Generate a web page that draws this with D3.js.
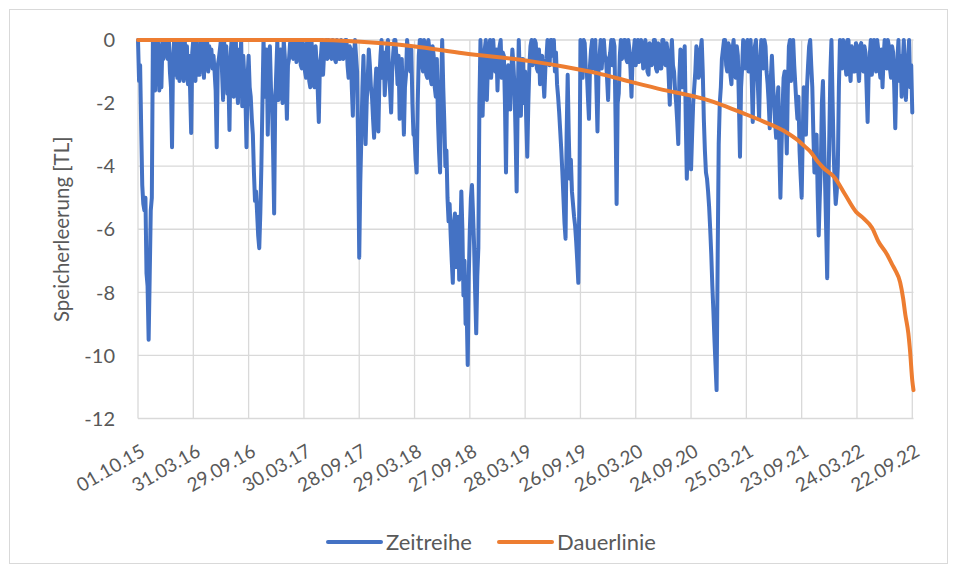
<!DOCTYPE html>
<html>
<head>
<meta charset="utf-8">
<script src="https://cdn.jsdelivr.net/npm/d3@7"></script>
<style>
  body { margin: 0; background: #fff; }
  text { font-family: Lato, "Open Sans", sans-serif; fill: #595959; }
</style>
</head>
<body>
<svg id="chart" width="957" height="573"></svg>
<script>
// time axis: labels every 182 days from the start date
const startDatum = new Date(Date.UTC(2015, 9, 1));
const tickAbstandTage = 182;
const tickAnzahl = 15;
const endeTag = 2552;
const schrittStunden = 84; // one value every 3.5 days

const yTicks = [0, -2, -4, -6, -8, -10, -12];

// Zeitreihe, one row per half-year (52 values each)
const zeitreihe = [
  0, -1.3, -0.8, -2.8, -4.6, -5.2, -5.4, -5.0, -7.4, -7.8, -9.5, -7.5, -5.4, -5.0, 0, -1.2, -1.6, 0, -1.4, -0.1, -1.6, -0.2, -1.5, 0, -0.6, 0, -0.5, 0, -0.6, 0, -1.0, -1.5, -3.4, -0.5, 0, -1.1, 0, -1.2, -0.1, -1.3, 0, -1.2, -0.1, -1.3, 0, -1.2, -0.2, -1.4, -0.5, -1.6, -2.95, -0.4,
  0, -1.0, -1.3, 0, -1.1, -0.2, -1.1, 0, -0.6, 0, -1.2, -0.1, -0.9, 0, -1.0, -0.2, -0.8, -0.3, -0.9, -0.5, -1.0, -1.6, -3.4, -0.8, -0.6, -0.3, 0, -1.0, -1.9, 0, -1.3, -0.2, -1.7, -1.2, -2.85, -0.5, 0, -1.6, -1.8, -0.2, 0, -1.5, -2.0, -0.3, -1.0, 0, -2.1, -0.5, -1.2, -1.8, -3.4, -1.2,
  -0.5, -1.5, -1.8, -2.5, -3.0, -4.2, -5.1, -4.8, -5.5, -6.2, -6.6, -5.5, -4.0, -2.0, 0, -1.0, -1.8, -0.3, -3.0, -1.2, -0.2, -1.5, -2.0, -3.5, -5.5, -2.0, -1.0, 0, -1.9, -0.5, -0.3, -1.6, -2.0, 0, -0.5, -1.2, -2.5, -0.8, -0.6, -0.1, 0, -0.5, -0.6, 0, 0, -0.7, -0.4, 0, 0, -0.8, -0.9, -0.1,
  -0.2, -1.0, -1.2, 0, -0.1, -1.3, -1.5, 0, -0.4, -1.4, -1.5, -0.2, -0.8, -1.6, -2.6, -0.8, -0.5, 0, -1.1, -0.4, -0.3, 0, -0.6, 0, -0.2, -0.5, -0.6, 0, -0.3, -0.6, -0.7, 0, -0.4, -0.6, -0.6, 0, -0.2, -0.6, -0.5, 0, 0, -0.8, -1.2, -0.2, -0.3, -1.5, -2.4, -0.6, 0, -0.5, -1.0, -3.5,
  -6.9, -4.5, -3.1, -1.5, -0.5, -2.0, -3.3, -2.0, -1.2, -0.3, -0.8, -1.5, -1.8, -2.5, -3.1, -1.5, -0.9, -2.0, -2.9, -1.2, -0.5, 0, -1.2, -0.4, -1.75, -1.0, -0.3, 0, -1.0, -1.6, -2.3, -1.0, -0.4, 0, 0, -0.6, -1.4, -0.5, -2.5, -1.5, -0.6, -1.8, -3.0, -1.5, -1.1, 0, -0.4, -0.8, -1.0, -0.3, -2.0, -3.0,
  -3.0, -3.8, -4.2, -2.0, -0.5, 0, 0, -0.8, -1.0, 0, -0.2, -1.1, -1.2, 0, -0.3, -1.2, -1.4, -0.2, -0.5, -1.5, -1.8, -0.6, -2.5, -3.5, -4.2, -1.5, 0, -1.5, -2.6, -4.0, -3.5, -5.0, -5.75, -5.2, -6.2, -7.0, -7.7, -5.8, -5.5, -7.2, -6.5, -5.6, -7.6, -6.5, -4.8, -6.0, -8.1, -7.0, -9.0, -8.5, -10.3, -7.5,
  -6.0, -5.0, -4.6, -5.5, -6.5, -8.0, -9.3, -7.5, -6.6, -2.0, 0, -1.0, -2.4, -1.0, -0.3, 0, -1.9, -0.8, -0.4, 0, -1.2, -0.5, 0, -0.6, -1.0, -0.3, -1.6, -0.5, -0.2, 0, -1.2, -0.4, -0.5, -2.0, -4.2, -1.5, -0.8, -1.5, -2.2, -1.0, -0.3, -0.8, -1.5, -3.0, -4.8, -2.0, 0, -1.2, -2.4, -0.6, -0.6, -2.0,
  -1.0, -2.5, -3.7, -2.0, -0.8, -0.2, 0, -0.8, -0.6, 0, -0.1, -0.9, -1.0, -0.3, -1.4, -0.6, -0.5, -1.2, -1.8, -0.9, -0.6, 0, -0.2, -0.8, 0, 0, -0.5, 0, -1.0, -0.4, -1.4, -1.8, -2.3, -2.9, -3.5, -4.2, -5.0, -5.8, -6.3, -3.0, -1.1, -3.0, -4.4, -3.8, -4.8, -5.2, -5.6, -5.9, -6.4, -7.0, -7.7, -5.0,
  0, -0.6, -1.2, 0, -0.1, -0.9, -1.0, -1.8, -2.5, -0.8, -0.3, 0, -0.9, -0.2, 0, -1.5, -2.9, -1.0, -0.5, 0, -0.9, -0.3, 0, -0.5, -0.6, -1.2, -1.9, -0.6, -0.4, 0, -0.8, 0, -0.2, -2.5, -5.2, -2.0, -1.7, -0.5, 0, -0.6, -0.5, 0, 0, -0.6, -0.7, 0, -0.3, -0.9, -1.8, -0.6, -0.4, 0,
  -0.8, -0.2, 0, -0.7, -0.6, 0, -0.2, -0.9, -0.8, 0, -0.3, -1.0, -1.1, -0.1, -0.2, -0.8, -0.7, 0, 0, -0.9, -1.0, -0.1, -0.3, -0.9, -0.9, 0, 0, -0.7, -0.8, -0.1, -0.4, -1.2, -2.05, -0.5, 0, -0.8, -1.0, -1.6, -2.0, -2.6, -3.3, -1.2, -0.3, -0.9, -1.5, -0.6, -0.2, -2.5, -4.4, -3.0, -1.8, -3.2,
  -4.1, -3.0, -2.0, -1.5, -1.0, -0.2, -0.4, -1.2, -1.1, -0.3, 0, -1.0, -2.5, -3.5, -4.2, -4.4, -4.8, -5.3, -6.0, -6.8, -7.8, -8.6, -9.5, -10.3, -11.1, -7.0, -3.3, -2.0, -1.5, -0.6, -0.3, 0, 0, -0.8, -1.0, -0.1, -0.2, -1.1, -1.4, -0.3, 0, -0.9, -1.2, -0.2, -0.5, -2.0, -3.7, -1.5, -0.9, 0, -0.2, -0.9,
  -0.3, 0, -1.0, -0.3, 0, -1.2, -2.6, -1.0, -0.2, 0, -0.8, -1.6, -2.5, -0.8, 0, -0.5, -0.9, 0, -0.2, -1.0, -1.4, -2.0, -2.8, -1.2, -0.5, -1.3, -2.0, -2.6, -3.1, -2.0, -1.5, -3.5, -5.0, -3.5, -2.2, -1.2, -1.0, -2.4, -3.6, -1.5, -0.2, 0, -1.3, -0.4, 0, -0.8, -1.4, -2.0, -2.5, -1.8, -3.5, -4.3,
  -5.0, -3.0, -1.5, -2.5, -3.0, -1.5, -0.8, -0.2, 0, -0.8, -1.5, -3.0, -4.2, -3.5, -3.0, -4.8, -6.2, -5.0, -4.0, -2.0, -1.3, -3.0, -4.5, -6.0, -7.55, -5.0, -3.0, -1.0, 0, -1.8, -3.5, -4.5, -5.2, -4.8, -4.0, -1.5, 0, -0.5, -0.9, 0, -0.2, -0.8, -1.1, 0, 0, -0.9, -1.3, -0.2, -0.3, -1.0, -1.0, -0.1,
  -0.2, -0.9, -1.3, -0.2, -0.1, -0.8, -1.0, -0.2, -0.4, -1.5, -2.6, -1.0, -0.5, 0, -1.1, -0.4, 0, -0.6, -1.0, 0, -0.3, -0.9, -1.2, -0.3, -1.5, -0.6, 0, -0.4, -0.9, 0, -0.2, -0.9, -1.2, -0.2, -0.4, -1.5, -2.8, -1.2, -0.6, 0, -1.3, -0.5, -1.8, -0.8, 0, -0.9, -1.9, -1.0, -0.6, 0, -1.5, -0.8,
  -2.3
];

// Dauerlinie, read at its bends (days since start, value)
const dauerTag = [0, 600, 720, 905, 1070, 1290, 1399, 1511, 1619, 1728, 1840, 1905, 1948, 2004, 2057, 2129, 2169, 2195, 2212, 2238, 2255, 2294, 2327, 2363, 2386, 2416, 2436, 2465, 2482, 2491, 2508, 2518, 2525, 2535, 2541, 2548, 2552];
const dauerWert = [0, 0, -0.05, -0.2, -0.42, -0.67, -0.84, -1.05, -1.32, -1.58, -1.81, -2.0, -2.16, -2.37, -2.58, -2.9, -3.16, -3.38, -3.53, -3.87, -4.05, -4.38, -4.9, -5.45, -5.64, -5.96, -6.38, -6.8, -7.12, -7.28, -7.68, -8.2, -8.7, -9.3, -9.9, -10.8, -11.1];

const serien = [
  { name: "Zeitreihe", farbe: "#4472C4" },
  { name: "Dauerlinie", farbe: "#ED7D31" }
];

const svg = d3.select("#chart");
const plot = { left: 138, right: 913.5, top: 40, bottom: 418.5 };

// chart area frame
svg.append("rect")
  .attr("x", 9.5).attr("y", 9.5)
  .attr("width", 938).attr("height", 554)
  .attr("fill", "#fff")
  .attr("stroke", "#d9d9d9");

const x = d3.scaleUtc()
  .domain([startDatum, d3.utcDay.offset(startDatum, endeTag)])
  .range([plot.left, plot.right]);

const y = d3.scaleLinear()
  .domain([-12, 0])
  .range([plot.bottom, plot.top]);

const tickDaten = d3.range(tickAnzahl).map(i => d3.utcDay.offset(startDatum, i * tickAbstandTage));
const fmt = d3.utcFormat("%d.%m.%y");

// gridlines
const grid = svg.append("g").attr("class", "grid");
grid.selectAll("line.h")
  .data(yTicks)
  .enter().append("line")
  .attr("class", "h")
  .attr("x1", plot.left).attr("x2", plot.right)
  .attr("y1", d => y(d)).attr("y2", d => y(d))
  .attr("stroke", "#d9d9d9").attr("stroke-width", 1.3);

grid.selectAll("line.v")
  .data(tickDaten)
  .enter().append("line")
  .attr("class", "v")
  .attr("x1", d => x(d)).attr("x2", d => x(d))
  .attr("y1", plot.top).attr("y2", plot.bottom)
  .attr("stroke", "#d9d9d9").attr("stroke-width", 1.3);

// y axis labels
svg.append("g").selectAll("text")
  .data(yTicks)
  .enter().append("text")
  .attr("x", 115)
  .attr("y", d => y(d))
  .attr("dy", "0.36em")
  .attr("text-anchor", "end")
  .attr("font-size", 20)
  .text(d => d === 0 ? "0" : "-" + Math.abs(d));

// x axis labels, rotated
svg.append("g").selectAll("text")
  .data(tickDaten)
  .enter().append("text")
  .attr("transform", d => `translate(${x(d) + 5},${449}) rotate(-30)`)
  .attr("dy", "0.36em")
  .attr("text-anchor", "end")
  .attr("font-size", 19)
  .text(d => fmt(d));

// axis title
svg.append("text")
  .attr("transform", `translate(62,${(plot.top + plot.bottom) / 2}) rotate(-90)`)
  .attr("text-anchor", "middle")
  .attr("dy", "0.36em")
  .attr("font-size", 20.5)
  .text("Speicherleerung [TL]");

// series
const zeitPunkte = zeitreihe.map((v, i) => ({ datum: d3.utcHour.offset(startDatum, i * schrittStunden), wert: v }));
const dauerPunkte = dauerTag.map((t, i) => ({ datum: d3.utcDay.offset(startDatum, t), wert: dauerWert[i] }));

const linie = d3.line()
  .x(d => x(d.datum))
  .y(d => y(d.wert));

svg.append("path")
  .datum(zeitPunkte)
  .attr("fill", "none")
  .attr("stroke", serien[0].farbe)
  .attr("stroke-width", 4)
  .attr("stroke-linejoin", "round")
  .attr("stroke-linecap", "round")
  .attr("d", linie);

svg.append("path")
  .datum(dauerPunkte)
  .attr("fill", "none")
  .attr("stroke", serien[1].farbe)
  .attr("stroke-width", 4)
  .attr("stroke-linejoin", "round")
  .attr("stroke-linecap", "round")
  .attr("d", linie.curve(d3.curveMonotoneX));

// legend
const legX = [328, 499];
const legende = svg.append("g").selectAll("g")
  .data(serien)
  .enter().append("g")
  .attr("transform", (d, i) => `translate(${legX[i]},542)`);

legende.append("line")
  .attr("x1", 0).attr("x2", 53)
  .attr("stroke", d => d.farbe)
  .attr("stroke-width", 4)
  .attr("stroke-linecap", "round");

legende.append("text")
  .attr("x", 58)
  .attr("dy", "0.36em")
  .attr("font-size", 22)
  .text(d => d.name);
</script>
</body>
</html>
